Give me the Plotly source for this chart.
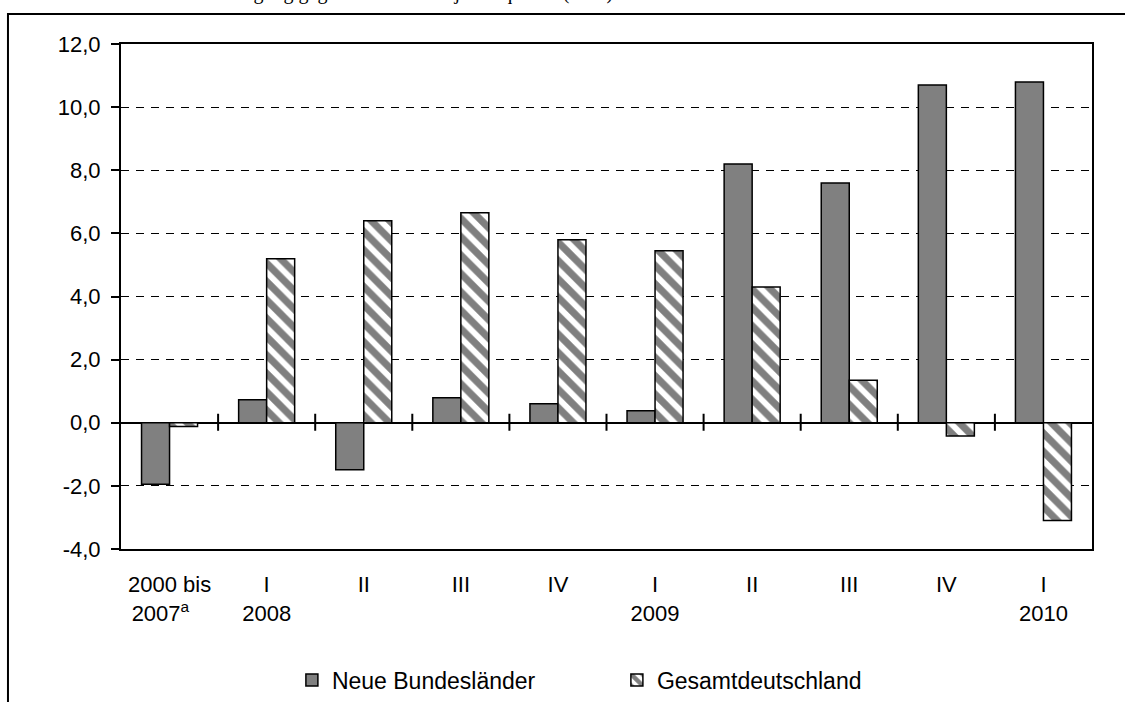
import plotly.graph_objects as go

# categories on the x axis (quarters), labels as printed under the axis
categories = ["2000 bis 2007", "2008 I", "2008 II", "2008 III", "2008 IV",
              "2009 I", "2009 II", "2009 III", "2009 IV", "2010 I"]
tick_labels = ["2000 bis<br>2007<sup>a</sup>" + "\u00a0" * 3, "I<br>2008", "II", "III", "IV",
               "I<br>2009", "II", "III", "IV", "I<br>2010"]

# change vs. previous year's quarter, in %
neue_bundeslaender = [-1.95, 0.73, -1.49, 0.79, 0.6, 0.38, 8.2, 7.6, 10.7, 10.8]
gesamtdeutschland = [-0.12, 5.2, 6.4, 6.65, 5.8, 5.45, 4.3, 1.35, -0.42, -3.1]

y_ticks = [-4, -2, 0, 2, 4, 6, 8, 10, 12]
y_ticktext = [f"{v:.1f}".replace(".", ",") for v in y_ticks]

font_main = "Arial, Liberation Sans, sans-serif"

fig = go.Figure()

fig.add_trace(go.Bar(x=categories, y=neue_bundeslaender, name="Neue Bundesländer",
                     marker=dict(color="#808080", line=dict(color="black", width=1.5))))

fig.add_trace(go.Bar(x=categories, y=gesamtdeutschland, name="Gesamtdeutschland",
                     marker=dict(color="white", line=dict(color="black", width=1.5),
                                 pattern=dict(shape="\\", fgcolor="black", bgcolor="white",
                                              size=13, solidity=0.55))))

# tick marks crossing the zero line at the category boundaries
shapes = []
for k in range(1, len(categories)):
    shapes.append(dict(type="line", xref="x", yref="y", x0=k - 0.5, x1=k - 0.5,
                       ysizemode="pixel", yanchor=0, y0=-8, y1=9,
                       line=dict(color="black", width=2)))

# outer frame of the figure (partly cut off by the page)
shapes.append(dict(type="rect", xref="paper", yref="paper",
                   x0=-0.1164, x1=1.05, y0=-0.36, y1=1.0594,
                   line=dict(color="black", width=2), layer="above"))

fig.update_layout(
    width=1125, height=702,
    margin=dict(l=121, r=33, t=44, b=153, autoexpand=False),
    paper_bgcolor="white", plot_bgcolor="white",
    barmode="group", bargap=0.423, bargroupgap=0,
    font=dict(family=font_main, size=22, color="black"),
    shapes=shapes,
    showlegend=True,
    legend=dict(orientation="h", x=0.176, xanchor="left", y=-0.2594, yanchor="middle",
                font=dict(family=font_main, size=23, color="black"),
                entrywidth=280, entrywidthmode="pixels", traceorder="normal"),
    annotations=[dict(text="Beschäftigung gegenüber dem Vorjahresquartal (in %)",
                      xref="paper", yref="paper", x=0.5087, y=1.0753,
                      xanchor="right", yanchor="bottom", showarrow=False,
                      font=dict(family="Times New Roman, Liberation Serif, serif",
                                size=20, color="black"))],
)

fig.update_xaxes(type="category", categoryorder="array", categoryarray=categories,
                 tickvals=categories, ticktext=tick_labels,
                 showline=True, linecolor="black", linewidth=2, mirror=True,
                 ticks="", showgrid=False, ticklabelstandoff=15,
                 tickfont=dict(family=font_main, size=22, color="black"))

fig.update_yaxes(range=[-4, 12], tickvals=y_ticks, ticktext=y_ticktext,
                 showline=True, linecolor="black", linewidth=2, mirror=True,
                 ticks="outside", ticklen=8, tickwidth=2, tickcolor="black",
                 ticklabelstandoff=6,
                 showgrid=True, gridcolor="black", gridwidth=1, griddash="8px,7px",
                 zeroline=True, zerolinecolor="black", zerolinewidth=2,
                 tickfont=dict(family=font_main, size=22, color="black"))

fig.write_html("out.html", config={"displayModeBar": False},
               post_script="document.body.style.margin='0';")
